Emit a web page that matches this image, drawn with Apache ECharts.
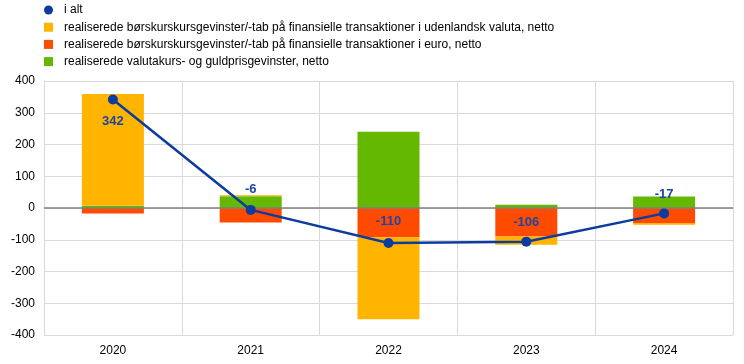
<!DOCTYPE html>
<html><head><meta charset="utf-8">
<script src="https://cdn.jsdelivr.net/npm/echarts@6/dist/echarts.min.js"></script>
<style>html,body{margin:0;padding:0;background:#fff}#c{width:744px;height:364px}</style>
</head><body><div id="c"></div>
<script>
const categories = ['2020','2021','2022','2023','2024'];
const total = [342, -6, -110, -106, -17];
const foreignCcy = [352, 3, -258, -26, -6];
const euroTx = [-17, -46, -92, -90, -47];
const fxGold = [7, 37, 240, 10, 36];
const names = ['i alt',
  'realiserede børskurskursgevinster/-tab på finansielle transaktioner i udenlandsk valuta, netto',
  'realiserede børskurskursgevinster/-tab på finansielle transaktioner i euro, netto',
  'realiserede valutakurs- og guldprisgevinster, netto'];
const labelPos = ['bottom','top','top','top','top'];
const labelOffset = [[0,6],[0,-4],[0,-5],[0,-3],[0,-2]];

const chart = echarts.init(document.getElementById('c'));
const font = 'Liberation Sans, Arial, sans-serif';
chart.setOption({
  animation: false,
  textStyle: {fontFamily: font},
  legend: {
    orient: 'vertical', left: 39, top: -1, itemGap: 5.2, itemWidth: 9, itemHeight: 9,
    textStyle: {fontSize: 12, color: '#000', fontFamily: font, padding: [0, 0, 0, 6]},
    data: [{name: names[0], icon: 'circle'}, {name: names[1], icon: 'rect'}, {name: names[2], icon: 'rect'}, {name: names[3], icon: 'rect'}]
  },
  grid: {left: 44, right: 11, top: 81, bottom: 29},
  xAxis: {
    type: 'category', data: categories,
    axisLine: {show: false, onZero: false}, axisTick: {show: false},
    axisLabel: {color: '#000', fontSize: 12, margin: 10},
    splitLine: {show: true, lineStyle: {color: '#d9d9d9', width: 1}}
  },
  yAxis: {
    type: 'value', min: -400, max: 400, interval: 100,
    axisLine: {show: true, lineStyle: {color: '#d9d9d9'}}, axisTick: {show: false},
    axisLabel: {color: '#000', fontSize: 12, margin: 9},
    splitLine: {lineStyle: {color: '#d9d9d9', width: 1}}
  },
  series: [
    {name: names[3], type: 'bar', stack: 's', data: fxGold, barWidth: 62, itemStyle: {color: '#65B800'},
     markLine: {silent: true, symbol: 'none', label: {show: false}, lineStyle: {color: '#808080', width: 1.5, type: 'solid'}, data: [{yAxis: 0}]}},
    {name: names[2], type: 'bar', stack: 's', data: euroTx, barWidth: 62, itemStyle: {color: '#FF4B00'}},
    {name: names[1], type: 'bar', stack: 's', data: foreignCcy, barWidth: 62, itemStyle: {color: '#FFB400'}},
    {name: names[0], type: 'line', data: total.map((v, i) => ({value: v, label: {position: labelPos[i], offset: labelOffset[i]}})),
     symbol: 'circle', symbolSize: 10, z: 5,
     lineStyle: {color: '#0B3C9E', width: 2.5}, itemStyle: {color: '#0B3C9E'},
     label: {show: true, color: '#1F45A3', fontWeight: 'bold', fontSize: 13, fontFamily: font}}
  ]
});
</script></body></html>
